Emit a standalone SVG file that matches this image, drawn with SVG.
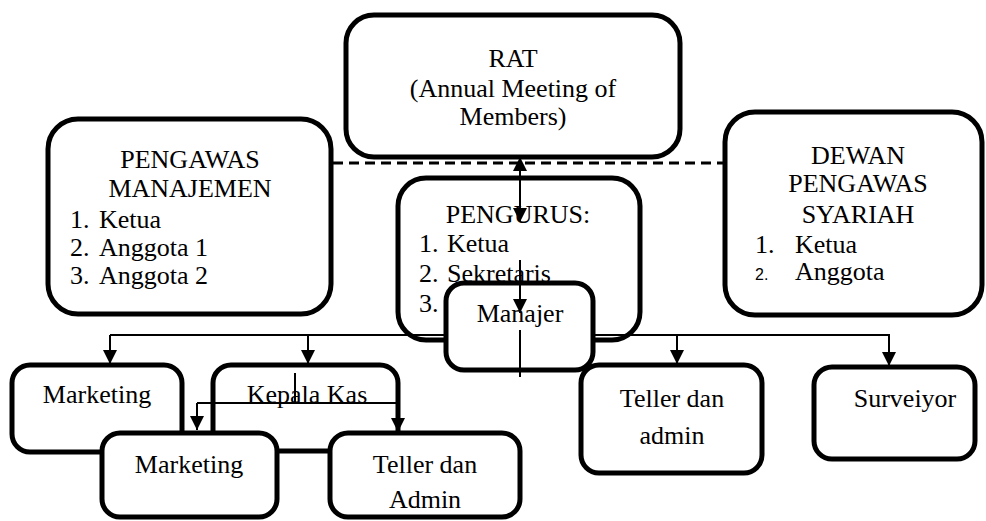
<svg xmlns="http://www.w3.org/2000/svg" width="986" height="521" viewBox="0 0 986 521">
<style>
.box{fill:#fff;stroke:#000;stroke-width:5}
.t{font-family:"Liberation Serif","Times New Roman",serif;font-size:26px;fill:#000}
.c{text-anchor:middle}
.s{font-family:"Liberation Sans",Arial,sans-serif;font-size:16px;fill:#000}
.ln{fill:none;stroke:#000;stroke-width:2}
.arr{fill:none;stroke:#000;stroke-width:2;marker-end:url(#ah)}
.dash{fill:none;stroke:#000;stroke-width:3;stroke-dasharray:10 6}
</style>
<defs>
<marker id="ah" viewBox="0 0 14 14" markerWidth="14" markerHeight="14" refX="14" refY="7" orient="auto-start-reverse" markerUnits="userSpaceOnUse">
<path d="M0,0 L14,7 L0,14 z" fill="#000"/>
</marker>
</defs>
<rect width="986" height="521" fill="#fff"/>

<g id="rat">
<rect class="box" x="346" y="15" width="334" height="142" rx="28"/>
<text class="t c" x="513" y="67">RAT</text>
<text class="t c" x="513" y="97">(Annual Meeting of</text>
<text class="t c" x="513" y="125">Members)</text>
</g>

<g id="pengawas-manajemen">
<rect class="box" x="48" y="119" width="283" height="195" rx="30"/>
<text class="t c" x="190" y="168">PENGAWAS</text>
<text class="t c" x="190" y="197">MANAJEMEN</text>
<text class="t" x="70" y="228">1.</text><text class="t" x="99" y="228">Ketua</text>
<text class="t" x="70" y="256">2.</text><text class="t" x="99" y="256">Anggota 1</text>
<text class="t" x="70" y="284">3.</text><text class="t" x="99" y="284">Anggota 2</text>
</g>

<g id="dewan-pengawas-syariah">
<rect class="box" x="725" y="112" width="257" height="203" rx="30"/>
<text class="t c" x="858" y="164">DEWAN</text>
<text class="t c" x="858" y="192">PENGAWAS</text>
<text class="t c" x="858" y="223">SYARIAH</text>
<text class="t" x="755" y="253">1.</text><text class="t" x="795" y="253">Ketua</text>
<text class="s" x="755" y="280">2.</text><text class="t" x="795" y="280">Anggota</text>
</g>

<g id="pengurus">
<rect class="box" x="398" y="178" width="242" height="162" rx="28"/>
<text class="t c" x="518" y="223">PENGURUS:</text>
<text class="t" x="419" y="252">1.</text><text class="t" x="447" y="252">Ketua</text>
<text class="t" x="419" y="282">2.</text><text class="t" x="447" y="282">Sekretaris</text>
<text class="t" x="419" y="312">3.</text>
</g>

<g id="manajer">
<rect class="box" x="446" y="283" width="147" height="87" rx="18"/>
<text class="t c" x="520" y="322">Manajer</text>
</g>

<g id="marketing-1">
<rect class="box" x="12" y="365" width="170" height="87" rx="18"/>
<text class="t c" x="97" y="403">Marketing</text>
</g>

<g id="kepala-kas">
<rect class="box" x="213" y="365" width="185" height="86" rx="18"/>
<text class="t c" x="307" y="403">Kepala Kas</text>
</g>

<g id="teller-admin-1">
<rect class="box" x="581" y="365" width="181" height="108" rx="18"/>
<text class="t c" x="672" y="407">Teller dan</text>
<text class="t c" x="672" y="444">admin</text>
</g>

<g id="surveiyor">
<rect class="box" x="814" y="367" width="161" height="92" rx="18"/>
<text class="t c" x="905" y="407">Surveiyor</text>
</g>

<g id="marketing-2">
<rect class="box" x="102" y="433" width="175" height="84" rx="18"/>
<text class="t c" x="189" y="473">Marketing</text>
</g>

<g id="teller-admin-2">
<rect class="box" x="330" y="433" width="190" height="84" rx="18"/>
<text class="t c" x="425" y="473">Teller dan</text>
<text class="t c" x="425" y="508">Admin</text>
</g>

<g id="connectors">
<line class="dash" x1="333" y1="163" x2="724" y2="163"/>
<line class="ln" x1="520" y1="157" x2="520" y2="222" marker-start="url(#ah)" marker-end="url(#ah)"/>
<line class="arr" x1="520" y1="260" x2="520" y2="313"/>
<line class="ln" x1="520" y1="330" x2="520" y2="377"/>
<line class="ln" x1="110" y1="335" x2="444" y2="335"/>
<line class="ln" x1="595" y1="335" x2="890" y2="335"/>
<line class="arr" x1="110" y1="335" x2="110" y2="364"/>
<line class="arr" x1="308" y1="335" x2="308" y2="364"/>
<line class="arr" x1="677" y1="335" x2="677" y2="364"/>
<line class="arr" x1="889" y1="335" x2="889" y2="366"/>
<line class="ln" x1="295" y1="373" x2="295" y2="403"/>
<line class="ln" x1="197" y1="403" x2="398" y2="403"/>
<line class="arr" x1="197" y1="403" x2="197" y2="430"/>
<line class="arr" x1="398" y1="403" x2="398" y2="432"/>
</g>
</svg>
